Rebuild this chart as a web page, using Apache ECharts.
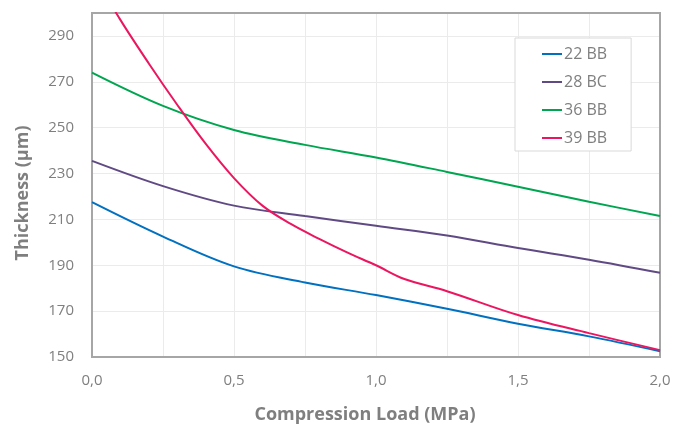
<!DOCTYPE html>
<html>
<head>
<meta charset="utf-8">
<script src="https://cdn.jsdelivr.net/npm/echarts@6/dist/echarts.min.js"></script>
<style>
  html, body { margin: 0; padding: 0; background: #fff; }
  #chart { width: 675px; height: 429px; }
</style>
</head>
<body>
<div id="chart"></div>
<script>
// 数据：压缩载荷 (MPa) 与厚度 (µm)
const seriesNames = ['22 BB', '28 BC', '36 BB', '39 BB'];
const seriesColors = ['#0070C0', '#604A84', '#00A550', '#EC1660'];

const load22 = [0, 0.25, 0.5, 0.75, 1.0, 1.25, 1.5, 1.75, 2.0];
const thick22 = [217.5, 202.5, 189.5, 182.5, 177, 171, 164.5, 159, 152.5];

const load28 = [0, 0.25, 0.5, 0.75, 1.0, 1.25, 1.5, 1.75, 2.0];
const thick28 = [235.5, 224.5, 216, 211.5, 207.2, 203, 197.5, 192.4, 186.7];

const load36 = [0, 0.25, 0.5, 0.75, 1.0, 1.25, 1.5, 1.75, 2.0];
const thick36 = [274, 259.5, 249, 242.5, 237, 230.7, 224.2, 217.7, 211.5];

const load39 = [0, 0.1, 0.2, 0.3, 0.4, 0.5, 0.6, 0.7, 0.8, 0.9, 1.0, 1.1, 1.25, 1.5, 1.75, 2.0];
const thick39 = [318, 297, 278, 260, 243, 228, 216, 208, 201.5, 195.5, 190, 184, 178.7, 168.3, 160.4, 153];

const xTicks = [0, 0.5, 1.0, 1.5, 2.0];

const loads = [load22, load28, load36, load39];
const thicks = [thick22, thick28, thick36, thick39];

const chart = echarts.init(document.getElementById('chart'), null, {renderer: 'canvas'});

const series = seriesNames.map((name, i) => ({
  name: name,
  type: 'line',
  smooth: 0.35,
  showSymbol: false,
  clip: true,
  lineStyle: {width: 2, color: seriesColors[i]},
  itemStyle: {color: seriesColors[i]},
  data: loads[i].map((x, j) => [x, thicks[i][j]])
}));

chart.setOption({
  animation: false,
  textStyle: {fontFamily: 'Open Sans'},
  grid: {
    left: 92, right: 15, top: 13, bottom: 70,
    show: true,
    borderColor: '#a6a6a6',
    borderWidth: 2,
    z: 3
  },
  legend: {
    orient: 'vertical',
    left: 515,
    top: 38,
    padding: [8, 24, 5, 27],
    itemGap: 12,
    itemWidth: 20,
    itemHeight: 2,
    icon: 'rect',
    backgroundColor: '#fff',
    borderColor: '#d9d9d9',
    borderWidth: 1,
    textStyle: {color: '#7f7f7f', fontSize: 16, lineHeight: 16, fontFamily: 'Open Sans', padding: [0, 0, 0, -3]},
    data: seriesNames
  },
  xAxis: {
    type: 'value',
    min: 0,
    max: 2,
    interval: 0.25,
    name: 'Compression Load (MPa)',
    nameLocation: 'middle',
    nameGap: 49,
    nameTextStyle: {color: '#7f7f7f', fontSize: 18, fontWeight: 'bold', fontFamily: 'Open Sans', padding: [0, 22, 0, 0]},
    axisLine: {show: true, lineStyle: {color: '#a6a6a6', width: 2}},
    axisTick: {show: false},
    axisLabel: {
      color: '#7f7f7f',
      fontSize: 15,
      margin: 16,
      formatter: v => xTicks.some(t => Math.abs(t - v) < 1e-9) ? v.toFixed(1).replace('.', ',') : ''
    },
    splitLine: {lineStyle: {color: '#ebebeb', width: 1}}
  },
  yAxis: {
    type: 'value',
    min: 150,
    max: 300,
    interval: 20,
    name: 'Thickness (µm)',
    nameLocation: 'middle',
    nameGap: 60,
    nameTextStyle: {color: '#7f7f7f', fontSize: 18, fontWeight: 'bold', fontFamily: 'Open Sans', padding: [0, 16, 0, 0]},
    axisLine: {show: true, lineStyle: {color: '#a6a6a6', width: 2}},
    axisTick: {show: false},
    axisLabel: {
      color: '#7f7f7f',
      fontSize: 15,
      margin: 18,
      showMaxLabel: false,
      formatter: v => v === 300 ? '' : String(v)
    },
    splitLine: {lineStyle: {color: '#ebebeb', width: 1}}
  },
  series: series
});
</script>
</body>
</html>
